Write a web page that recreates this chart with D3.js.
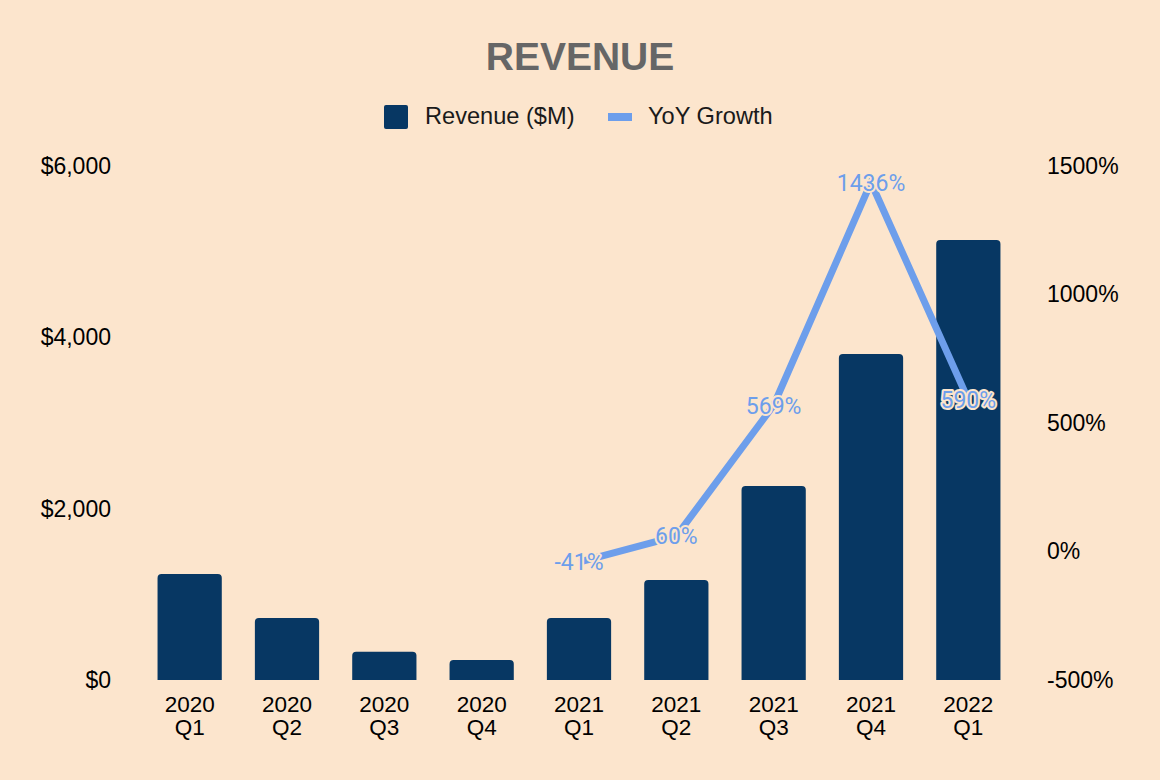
<!DOCTYPE html>
<html>
<head>
<meta charset="utf-8">
<script src="https://cdn.jsdelivr.net/npm/d3@7/dist/d3.min.js"></script>
<style>
  html, body { margin: 0; padding: 0; background: #fce5cd; }
  svg { display: block; }
</style>
</head>
<body>
<svg id="chart" width="1160" height="780"></svg>
<script>
const categories = ["2020 Q1","2020 Q2","2020 Q3","2020 Q4","2021 Q1","2021 Q2","2021 Q3","2021 Q4","2022 Q1"];
const revenue = [1237, 724, 330, 233, 724, 1167, 2264, 3805, 5136];
const growth = [null, null, null, null, -41, 60, 569, 1436, 590];
const leftTicks = [0, 2000, 4000, 6000];
const rightTicks = [-500, 0, 500, 1000, 1500];
const seriesNames = ["Revenue ($M)", "YoY Growth"];
const titleText = "REVENUE";

const W = 1160, H = 780;
const bg = "#fce5cd", barColor = "#073763", lineColor = "#6d9eeb";
const axisFont = "'Liberation Sans', Arial, sans-serif";
const svg = d3.select("#chart");
svg.append("rect").attr("width", W).attr("height", H).attr("fill", bg);

const x = d3.scaleBand().domain(categories).range([141, 1017]).paddingInner(0.34).paddingOuter(0.17);
const yL = d3.scaleLinear().domain([0, 6000]).range([680, 166]);
const yR = d3.scaleLinear().domain([-500, 1500]).range([680, 166]);

// title
svg.append("text").attr("x", 580).attr("y", 70).attr("text-anchor", "middle")
  .attr("font-family", axisFont).attr("font-weight", "bold").attr("font-size", 39)
  .attr("fill", "#666666").text(titleText);

// legend
const lg = svg.append("g").attr("font-family", axisFont).attr("font-size", 23.6).attr("fill", "#1a1a1a");
lg.append("rect").attr("x", 384).attr("y", 105).attr("width", 24).attr("height", 24).attr("rx", 2).attr("fill", barColor);
lg.append("text").attr("x", 425).attr("y", 124).text(seriesNames[0]);
lg.append("rect").attr("x", 608).attr("y", 113).attr("width", 24).attr("height", 8).attr("fill", lineColor);
lg.append("text").attr("x", 648).attr("y", 124).text(seriesNames[1]);

// left axis
const fmtL = d => "$" + d3.format(",")(d);
const axL = svg.append("g").attr("transform", "translate(111,0)")
  .call(d3.axisLeft(yL).tickValues(leftTicks).tickFormat(fmtL).tickSize(0).tickPadding(0));
axL.select(".domain").remove();
axL.selectAll("text").attr("font-family", axisFont).attr("font-size", 23).attr("fill", "#000");

// right axis
const axR = svg.append("g").attr("transform", "translate(1047,0)")
  .call(d3.axisRight(yR).tickValues(rightTicks).tickFormat(d => d + "%").tickSize(0).tickPadding(0));
axR.select(".domain").remove();
axR.selectAll("text").attr("font-family", axisFont).attr("font-size", 23).attr("fill", "#000");

// bars with rounded top corners
const r = 4;
function barPath(d, i) {
  const x0 = x(categories[i]), w = x.bandwidth(), y0 = yL(0), y1 = yL(d);
  return `M${x0},${y0}V${y1 + r}Q${x0},${y1} ${x0 + r},${y1}H${x0 + w - r}Q${x0 + w},${y1} ${x0 + w},${y1 + r}V${y0}Z`;
}
svg.append("g").selectAll("path").data(revenue).join("path")
  .attr("d", (d, i) => barPath(d, i)).attr("fill", barColor);

// x axis labels (two lines)
const axX = svg.append("g").attr("transform", "translate(0,680)")
  .call(d3.axisBottom(x).tickSize(0).tickPadding(0));
axX.select(".domain").remove();
axX.selectAll("text").attr("font-family", axisFont).attr("font-size", 22.5).attr("fill", "#000")
  .attr("dy", null)
  .each(function(d) {
    const parts = d.split(" ");
    const t = d3.select(this).text(null).attr("y", 0);
    t.append("tspan").attr("x", 0).attr("y", 31.5).text(parts[0]);
    t.append("tspan").attr("x", 0).attr("y", 55).text(parts[1]);
  });

// line
const pts = categories.map((c, i) => ({c, v: growth[i]})).filter(p => p.v !== null);
const line = d3.line().x(p => x(p.c) + x.bandwidth() / 2).y(p => yR(p.v));
svg.append("path").datum(pts).attr("d", line).attr("fill", "none")
  .attr("stroke", lineColor).attr("stroke-width", 7).attr("stroke-linejoin", "miter").attr("stroke-miterlimit", 10);

// labels
svg.append("g").selectAll("text").data(pts).join("text")
  .attr("x", p => x(p.c) + x.bandwidth() / 2).attr("y", p => yR(p.v))
  .attr("dy", "0.36em").attr("text-anchor", "middle")
  .attr("font-family", "Roboto, 'Noto Sans', sans-serif").attr("font-size", 23)
  .attr("fill", lineColor).attr("stroke", bg).attr("stroke-width", 4).attr("stroke-linejoin", "round")
  .attr("paint-order", "stroke")
  .text(p => p.v + "%");
</script>
</body>
</html>
